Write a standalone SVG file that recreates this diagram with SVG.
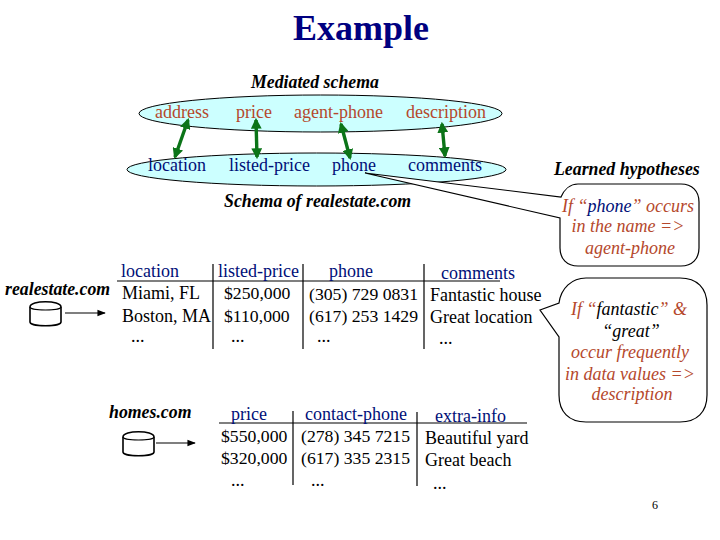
<svg xmlns="http://www.w3.org/2000/svg" width="720" height="540" viewBox="0 0 720 540">
<defs>
<marker id="g" viewBox="0 0 10 10" refX="8" refY="5" markerWidth="3.200" markerHeight="3.200" orient="auto-start-reverse"><path d="M0 0L10 5L0 10Z" fill="#0b7418"/></marker>
<marker id="k" viewBox="0 0 10 10" refX="9" refY="5" markerWidth="7" markerHeight="7" orient="auto"><path d="M0 1L10 5L0 9Z" fill="#000"/></marker>
</defs>
<style>
text{font-family:"Liberation Serif","Times New Roman",serif;font-size:18px;fill:#000}
.h{font-weight:bold;font-style:italic;font-size:17.8px}
.r{fill:#b5482c}
.b{fill:#000f78}
.i{font-style:italic;fill:#b5482c;text-anchor:middle}
.e{fill:#ccffff;stroke:#000;stroke-width:1}
.a{stroke:#0b7418;stroke-width:3.4;fill:none;marker-start:url(#g);marker-end:url(#g)}
.l{stroke:#000;stroke-width:1.2;fill:none}
.c{fill:#fff;stroke:#000;stroke-width:1.2}
.s{stroke:#000;stroke-width:1.6;fill:#fff}
.n{font-size:17.7px}
</style>
<rect width="720" height="540" fill="#fff"/>
<text id="title" x="293" y="40" style="font-size:36px;font-weight:bold;fill:#000080">Example</text>
<g id="mediated-schema">
<text class="h" x="251" y="88">Mediated schema</text>
<ellipse class="e" cx="320.500" cy="113.500" rx="181.500" ry="18.500"/>
<text class="r" x="155" y="118">address</text>
<text class="r" x="236" y="118">price</text>
<text class="r" x="294" y="118">agent-phone</text>
<text class="r" x="406" y="118">description</text>
</g>
<g id="source-schema">
<ellipse class="e" cx="316.500" cy="169.500" rx="189.500" ry="16.500"/>
<text class="b" x="148" y="171">location</text>
<text class="b" x="229" y="171">listed-price</text>
<text class="b" x="332" y="171">phone</text>
<text class="b" x="408" y="171">comments</text>
<text class="h" x="224" y="207">Schema of realestate.com</text>
</g>
<g id="connectors">
<line class="a" x1="188" y1="120" x2="175" y2="157"/>
<line class="a" x1="256" y1="120" x2="257" y2="157"/>
<line class="a" x1="341" y1="124" x2="350" y2="158"/>
<line class="a" x1="442" y1="124" x2="445" y2="156"/>
<line class="l" x1="65" y1="313" x2="105" y2="313" marker-end="url(#k)"/>
<line class="l" x1="156" y1="443" x2="195" y2="443" marker-end="url(#k)"/>
</g>
<g id="hypothesis-1">
<text class="h" x="554" y="175">Learned hypotheses</text>
<path class="c" d="M365 173L561 197C564 190 570 184 578 184H681C692 184 699 191 699 202V248C699 259 692 266 681 266H578C567 266 560 259 560 248V218Z"/>
<text class="i" x="628" y="212">If “<tspan fill="#000f78">phone</tspan>” occurs</text>
<text class="i" x="628" y="232">in the name =&gt;</text>
<text class="i" x="630" y="254">agent-phone</text>
</g>
<g id="hypothesis-2">
<path class="c" d="M559 303C561 288 572 278 586 278H680C697 278 707 288 707 305V395C707 412 697 422 680 422H586C569 422 559 412 559 395V337L540 310Z"/>
<text class="i" x="629" y="315">If “<tspan fill="#000">fantastic</tspan>” &amp;</text>
<text class="i" x="631" y="337"><tspan fill="#000">“great”</tspan></text>
<text class="i" x="630" y="358">occur frequently</text>
<text class="i" x="630" y="380">in data values =&gt;</text>
<text class="i" x="632" y="400">description</text>
</g>
<g id="realestate-table">
<text class="h" x="5" y="295">realestate.com</text>
<path class="s" d="M30 307C30 300 61 300 61 307V322C61 327 30 327 30 322Z"/><path class="l" d="M30 307C30 311 61 311 61 307"/>
<path class="l" d="M117 281H500M213 264V349M303 264V349M424 264V349"/>
<text class="b" x="121" y="277">location</text>
<text class="b" x="218" y="277">listed-price</text>
<text class="b" x="329" y="277">phone</text>
<text class="b" x="441" y="279">comments</text>
<text x="122" y="299">Miami, FL</text>
<text class="n" x="224" y="299">$250,000</text>
<text class="n" x="309" y="300">(305) 729 0831</text>
<text x="430" y="301">Fantastic house</text>
<text x="122" y="322">Boston, MA</text>
<text class="n" x="224" y="322">$110,000</text>
<text class="n" x="309" y="322">(617) 253 1429</text>
<text x="430" y="323">Great location</text>
<text x="131" y="342">...</text>
<text x="231" y="342">...</text>
<text x="317" y="342">...</text>
<text x="439" y="344">...</text>
</g>
<g id="homes-table">
<text class="h" x="109" y="418">homes.com</text>
<path class="s" d="M123 437C123 430 154 430 154 437V452C154 457 123 457 123 452Z"/><path class="l" d="M123 437C123 441 154 441 154 437"/>
<path class="l" d="M219 423H527M293 411V485M417 412V486"/>
<text class="b" x="231" y="420">price</text>
<text class="b" x="305" y="420">contact-phone</text>
<text class="b" x="435" y="422">extra-info</text>
<text class="n" x="221" y="442">$550,000</text>
<text class="n" x="301" y="442">(278) 345 7215</text>
<text x="425" y="444">Beautiful yard</text>
<text class="n" x="221" y="464">$320,000</text>
<text class="n" x="301" y="464">(617) 335 2315</text>
<text x="425" y="466">Great beach</text>
<text x="231" y="486">...</text>
<text x="311" y="486">...</text>
<text x="433" y="489">...</text>
</g>
<text id="page" x="652" y="509" style="font-size:12px">6</text>
</svg>
